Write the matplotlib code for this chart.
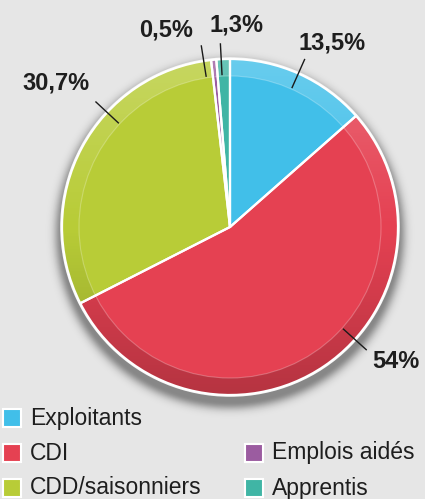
import numpy as np
import matplotlib
matplotlib.use("Agg")
import matplotlib.pyplot as plt
from matplotlib.patches import Wedge, Circle, Rectangle

# Répartition des actifs agricoles (%)
categories = ["Exploitants", "CDI", "CDD/saisonniers", "Emplois aidés", "Apprentis"]
shares = [13.5, 54.0, 30.7, 0.5, 1.3]
value_labels = ["13,5%", "54%", "30,7%", "0,5%", "1,3%"]
colors = ["#41BFE9", "#E54152", "#B8CC37", "#9B5CA0", "#40B5A5"]

W, H = 425, 499
BG = "#E6E6E6"

fig = plt.figure(figsize=(W / 100, H / 100), dpi=100)
fig.patch.set_facecolor(BG)
ax = fig.add_axes([0, 0, 1, 1])
ax.set_facecolor(BG)


def Y(y_top):
    """Convert a y measured from the top edge to data coordinates."""
    return H - y_top


cx, cy = 230, Y(227)
R, R_in = 168, 151

# soft drop shadow under the disc
xs = np.arange(W) + 0.5
ys = np.arange(H) + 0.5
gx, gy = np.meshgrid(xs, ys)
d = np.hypot(gx - cx, (H - gy) - (cy - 7)) - R
alpha = 0.55 * np.exp(-np.clip(d, 0, None) ** 2 / (2 * 5.5 ** 2))
shadow = np.zeros((H, W, 4))
shadow[..., 3] = alpha * 0.75
ax.imshow(shadow, extent=(0, W, 0, H), origin="upper", zorder=1, interpolation="bilinear")

# light rim around the disc
ax.add_patch(Circle((cx, cy), R + 1.8, facecolor="#F4F4F4", edgecolor="none", zorder=2))

wedges, _ = ax.pie(shares, colors=colors, startangle=90, counterclock=False,
                   radius=R, center=(cx, cy),
                   wedgeprops=dict(edgecolor="none", linewidth=0))
for w in wedges:
    w.set_zorder(3)

# shaded outer band: lighter at the top, darker at the bottom
band = Wedge((cx, cy), R, 0, 360, width=R - R_in, facecolor="none", edgecolor="none")
ax.add_patch(band)
grad = np.zeros((H, W, 4))
pos = np.clip((gy - (H - (cy + R))) / (2 * R), 0, 1)  # 0 at top of disc, 1 at bottom
k = 1 - 2 * pos
grad[..., 0:3] = np.where(k[..., None] > 0, 1.0, 0.0)
grad[..., 3] = 0.21 * np.abs(k)
im = ax.imshow(grad, extent=(0, W, 0, H), origin="upper", zorder=4, interpolation="bilinear")
im.set_clip_path(band)
ax.add_patch(Circle((cx, cy), R_in, facecolor="none", edgecolor="white",
                    alpha=0.25, linewidth=0.8, zorder=5))

# white separators between slices
for w in wedges:
    ax.add_patch(Wedge((cx, cy), R, w.theta1, w.theta2, facecolor="none",
                       edgecolor="white", linewidth=1.6, zorder=6))

# value labels with leader lines
label_angle = [66, -42, 137, 99, 93]
text_pos = [(332, 43), (396, 362), (56, 83), (166, 30), (237, 25)]
for ang, lab, (tx, ty) in zip(label_angle, value_labels, text_pos):
    a = np.deg2rad(ang)
    ax.plot([cx + 152 * np.cos(a), cx + 184 * np.cos(a)],
            [cy + 152 * np.sin(a), cy + 184 * np.sin(a)],
            color="#1A1A1A", linewidth=1.0, zorder=7, solid_capstyle="butt")
    ax.text(tx, Y(ty), lab, ha="center", va="center", fontsize=17,
            fontweight="bold", family="Liberation Sans", color="#1E1E1E", zorder=8)

# legend
legend_pos = [(3, 418), (3, 453), (3, 488), (245, 453), (245, 488)]
for (lx, ly), name, col in zip(legend_pos, categories, colors):
    ax.add_patch(Rectangle((lx, Y(ly) - 9), 18, 18, facecolor=col,
                           edgecolor="white", linewidth=1.5, zorder=8))
    ax.text(lx + 27, Y(ly), name, ha="left", va="center", fontsize=16.5,
            family="Liberation Sans", color="#1E1E1E", zorder=8)

ax.set_xlim(0, W)
ax.set_ylim(0, H)
ax.set_aspect("equal")
ax.axis("off")

fig.savefig("out.png", dpi=100, facecolor=BG)
